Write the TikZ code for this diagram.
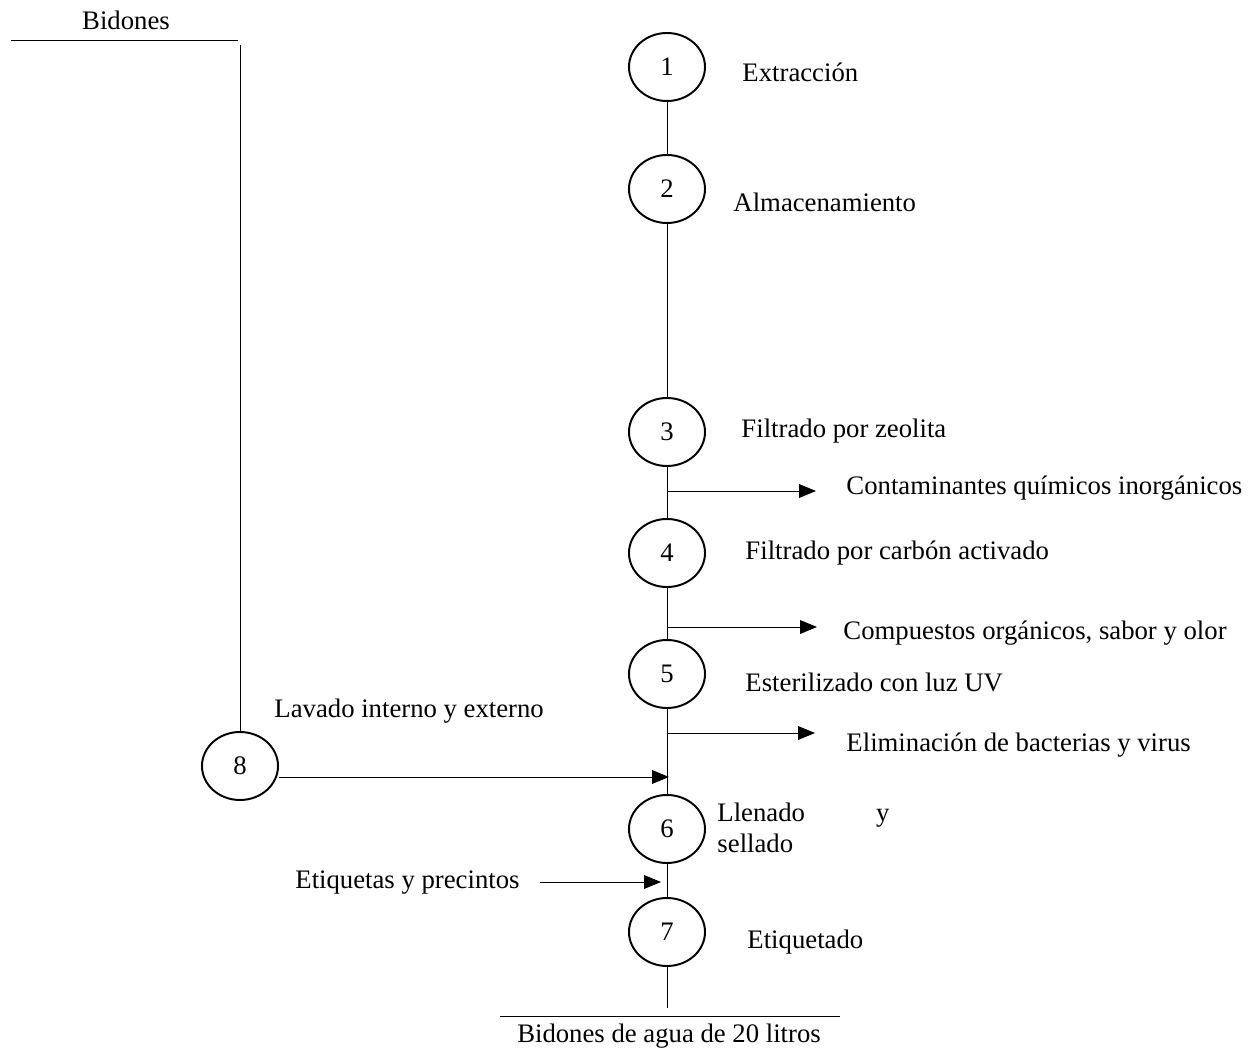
\documentclass[tikz,border=0pt]{standalone}
\usepackage{fontspec}
\setmainfont{Liberation Serif}
\usetikzlibrary{shapes.geometric}
\usetikzlibrary{arrows.meta}

\tikzset{
  paso/.style={draw, ellipse, line width=1.4pt, minimum width=1.9cm, minimum height=1.7cm, inner sep=0pt},
  etiq/.style={anchor=west, inner sep=0pt},
  flecha/.style={-{Triangle[length=0.42cm,width=0.34cm]}},
}

\begin{document}
\begin{tikzpicture}[x=0.025cm, y=-0.025cm, line width=0.7pt, font=\fontsize{19}{22}\selectfont]
          \useasboundingbox (0,0) rectangle (1259,1057);
          \node[paso] (p1) at (667,67) {1};
          \node[paso] (p2) at (667,189) {2};
          \node[paso] (p3) at (667,432) {3};
          \node[paso] (p4) at (667,553) {4};
          \node[paso] (p5) at (667,674) {5};
          \node[paso] (p6) at (667,829) {6};
          \node[paso] (p7) at (667,932) {7};
          \node[paso] (p8) at (240,766) {8};
          \node[etiq] (e1) at (742,72) {Extracción};
          \node[etiq] (e2) at (733,202) {Almacenamiento};
          \node[etiq] (e3) at (741,431) {Filtrado por zeolita};
          \node[etiq] (e4) at (745,553) {Filtrado por carbón activado};
          \node[etiq] (e5) at (745,682) {Esterilizado con luz UV};
          \node[etiq, text width=4.3cm, align=left] (e6) at (717,828) {Llenado\hfill y\\sellado};
          \node[etiq] (e7) at (747,942) {Etiquetado};
          \node[etiq] (e8) at (274,711) {Lavado interno y externo};
          \node[etiq] (r3) at (846,488) {Contaminantes químicos inorgánicos};
          \node[etiq] (r4) at (843,633) {Compuestos orgánicos, sabor y olor};
          \node[etiq] (r5) at (846,745) {Eliminación de bacterias y virus};
          \node[anchor=east, inner sep=0pt] (etq) at (520,883) {Etiquetas y precintos};
          \node (bid) at (126,20) {Bidones};
          \node (fin) at (669,1036) {Bidones de agua de 20 litros};
          % linea principal
          \draw (p1) -- (p2);
          \draw (p2) -- (p3);
          \draw (p3) -- (p4);
          \draw (p4) -- (p5);
          \draw (p5) -- (p6);
          \draw (p6) -- (p7);
          \coordinate (f7) at (667,1008);
          \draw (p7) -- (f7);
          \coordinate (fa) at (500,1016);
          \coordinate (fb) at (840,1016);
          \draw (fa) -- (fb);
          % salidas
          \coordinate (s3) at (667,491);
          \coordinate (t3) at (816,491);
          \draw[flecha] (s3) -- (t3);
          \coordinate (s4) at (667,627);
          \coordinate (t4) at (817,627);
          \draw[flecha] (s4) -- (t4);
          \coordinate (s5) at (667,733);
          \coordinate (t5) at (815,733);
          \draw[flecha] (s5) -- (t5);
          % bidones
          \coordinate (ba) at (11,40);
          \coordinate (bb) at (238,40);
          \draw (ba) -- (bb);
          \coordinate (bc) at (240,45);
          \draw (bc) -- (p8);
          \coordinate (t8) at (669,777);
          \draw[flecha] (p8.east |- t8) -- (t8);
          \coordinate (sq) at (540,882);
          \coordinate (tq) at (661,882);
          \draw[flecha] (sq) -- (tq);
        \end{tikzpicture}
\end{document}
